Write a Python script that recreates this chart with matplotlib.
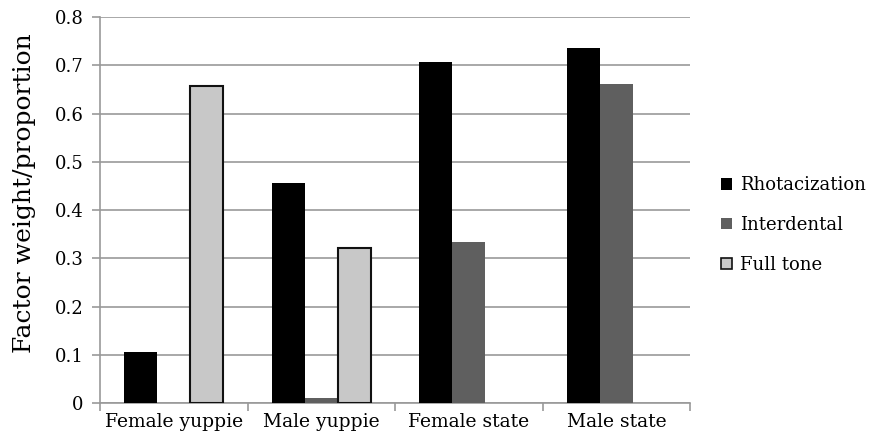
import matplotlib
matplotlib.use("Agg")
import matplotlib.pyplot as plt
import numpy as np

groups = ["Female yuppie", "Male yuppie", "Female state", "Male state"]
series = ["Rhotacization", "Interdental", "Full tone"]
rhotacization = [0.106, 0.456, 0.707, 0.736]
interdental = [0.0, 0.01, 0.334, 0.662]
full_tone = [0.657, 0.321, 0.0, 0.0]

plt.rcParams["font.family"] = ["DejaVu Serif"]

fig = plt.figure(figsize=(8.77, 4.43), dpi=100)
ax = fig.add_axes([0.114, 0.0903, 0.673, 0.8713])

x = np.arange(len(groups))
w = 0.224
ax.bar(x - w, rhotacization, w, color="#000000", label=series[0], zorder=3)
ax.bar(x, interdental, w, color="#5f5f5f", label=series[1], zorder=3)
# 值为 0 的柱子不画边框，避免底部出现细线
edge_w = [1.5 if v > 0 else 0 for v in full_tone]
ax.bar(x + w, full_tone, w, color="#c8c8c8", edgecolor="#111111", linewidth=edge_w,
       zorder=3)
ax.bar([np.nan], [np.nan], w, color="#c8c8c8", edgecolor="#111111", linewidth=1.2,
       label=series[2])

ax.set_xlim(-0.5, 3.5)
ax.set_ylim(0, 0.8)
ax.set_yticks(np.arange(0, 0.81, 0.1))
ax.set_yticklabels(["0"] + [f"{v:.1f}" for v in np.arange(0.1, 0.81, 0.1)])
ax.yaxis.grid(True, color="#999999", linewidth=1.2, zorder=0)

ax.set_xticks(np.arange(-0.5, 3.6, 1.0))
ax.set_xticklabels([])
ax.set_xticks(x, minor=True)
ax.set_xticklabels(groups, minor=True, fontsize=13.5)
ax.tick_params(axis="x", which="minor", length=0, pad=7)
ax.tick_params(axis="x", which="major", length=6, color="#999999", width=1.2)
ax.tick_params(axis="y", length=6, color="#999999", width=1.2, labelsize=13, pad=6)

for s in ["top", "right"]:
    ax.spines[s].set_visible(False)
ax.spines["left"].set_color("#999999")
ax.spines["bottom"].set_color("#999999")
ax.spines["left"].set_linewidth(1.2)
ax.spines["bottom"].set_linewidth(1.2)

ax.set_ylabel("Factor weight/proportion", fontsize=18)
ax.yaxis.set_label_coords(-0.108, 0.543)

ax.legend(loc="center left", bbox_to_anchor=(1.025, 0.461), frameon=False,
          fontsize=13, handlelength=0.6, handleheight=0.6, handletextpad=0.45,
          labelspacing=1.2)

fig.savefig("out.png", dpi=100)
